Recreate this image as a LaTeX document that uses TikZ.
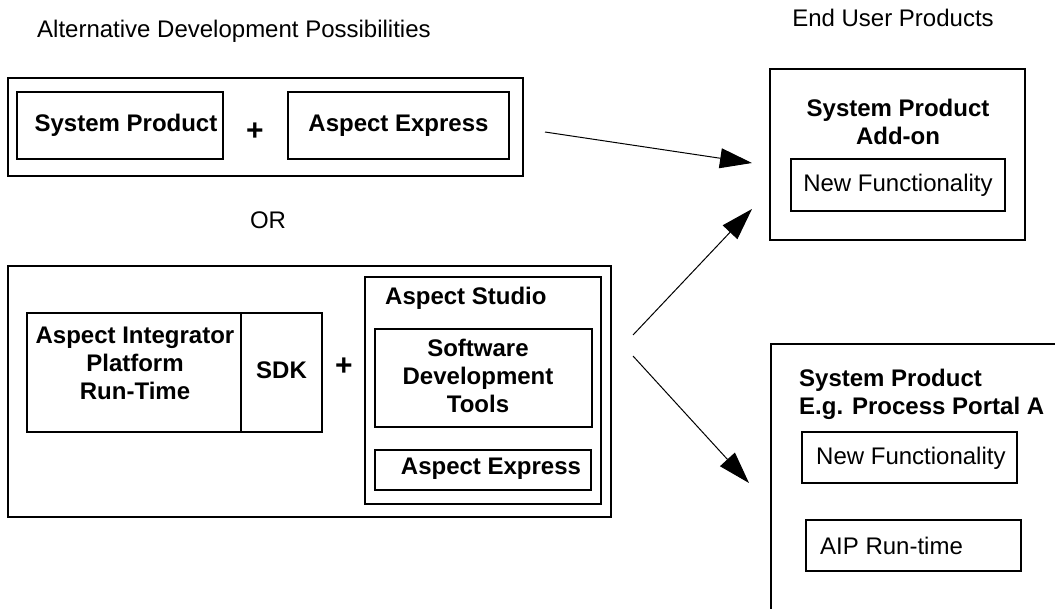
\documentclass[tikz,border=0pt]{standalone}
\usepackage{fontspec}
\setmainfont{Liberation Sans}
\usetikzlibrary{arrows.meta}
\tikzset{
  box/.style={draw, line width=1.8pt, inner sep=0pt, align=center,
    font=\fontsize{24}{28}\selectfont\bfseries},
  plainbox/.style={box, font=\fontsize{24}{28}\selectfont},
  lbl/.style={inner sep=0pt, align=center, font=\fontsize{24}{28}\selectfont},
  blbl/.style={lbl, font=\fontsize{24}{28}\selectfont\bfseries},
  plus/.style={inner sep=0pt, font=\fontsize{30}{30}\selectfont\bfseries},
  conn/.style={line width=1pt, -{Triangle[length=32pt,width=20pt]}}
}
\begin{document}
\begin{tikzpicture}[x=1pt,y=-1pt]
\clip (0,0) rectangle (1055,608);
% titles
\node[lbl, anchor=west] (ttl) at (37,31) {Alternative Development Possibilities};
\node[lbl] (eup) at (893,18) {End User Products};
% top alternative
\node[box, minimum width=515pt, minimum height=98pt] (topouter) at (265.5,127) {};
\node[box, minimum width=206pt, minimum height=67pt] (sp1) at (120,125.5) {\hspace*{12pt}System Product};
\node[plus] (plus1) at (255,132) {+};
\node[box, minimum width=221pt, minimum height=67pt] (ae1) at (398.5,125.5) {Aspect Express};
\node[lbl] (or) at (268,220) {OR};
% bottom alternative
\node[box, minimum width=603pt, minimum height=251pt] (botouter) at (309.5,391.5) {};
\node[box, minimum width=214pt, minimum height=119pt] (aip) at (134,372.5) {};
\node[blbl] (aiptxt) at (135,363.5) {Aspect Integrator\\Platform\\Run-Time};
\node[box, minimum width=81pt, minimum height=119pt] (sdk) at (281.5,372.5) {};
\node[blbl] (sdktxt) at (281.5,370) {SDK};
\node[plus] (plus2) at (344,367) {+};
\node[box, minimum width=236pt, minimum height=227pt] (studio) at (483,390.5) {};
\node[blbl, anchor=west] (studiotxt) at (385,298) {Aspect Studio};
\node[box, minimum width=217pt, minimum height=98pt] (sdt) at (483.5,378) {};
\node[blbl] (sdttxt) at (478,375.5) {Software\\Development\\Tools};
\node[box, minimum width=216pt, minimum height=40pt] (ae2) at (483,470) {};
\node[blbl] (ae2txt) at (491,469) {Aspect Express};
% end user products
\node[box, minimum width=255pt, minimum height=171pt] (rt) at (897.5,154.5) {};
\node[blbl] (rttxt) at (898,121.5) {System Product\\Add-on};
\node[plainbox, minimum width=214pt, minimum height=52pt] (nf1) at (898,185) {New Functionality};
\node[box, minimum width=340pt, minimum height=320pt, anchor=north west] (br) at (770,343) {};
\node[blbl, anchor=west, align=left] (brtxt) at (799,394.5) {System Product\\E.g. Process Portal A};
\node[box, minimum width=215pt, minimum height=51pt] (nf2) at (909.5,457.5) {};
\node[lbl, anchor=west] (nf2txt) at (816,458) {New Functionality};
\node[box, minimum width=215pt, minimum height=51pt] (aip2) at (913.5,545.5) {};
\node[lbl, anchor=west] (aip2txt) at (820,546) {AIP Run-time};
% connectors
\coordinate (a1s) at (545,132);
\coordinate (a1e) at (752,163);
\coordinate (a2s) at (633,335);
\coordinate (a2e) at (752,209);
\coordinate (a3s) at (633,356);
\coordinate (a3e) at (749,483);
\draw[conn] (a1s) -- (a1e);
\draw[conn] (a2s) -- (a2e);
\draw[conn] (a3s) -- (a3e);
\end{tikzpicture}
\end{document}
